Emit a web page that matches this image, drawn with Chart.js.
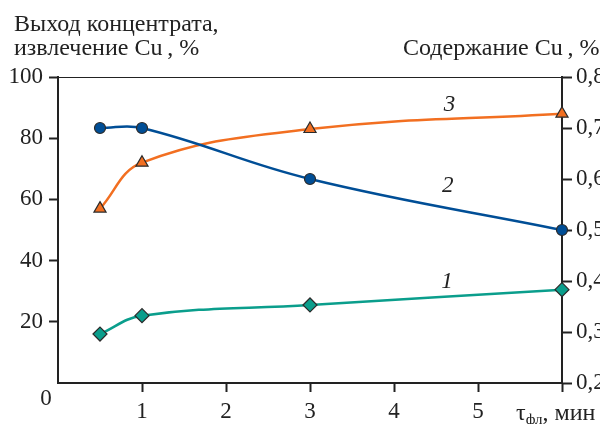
<!DOCTYPE html>
<html>
<head>
<meta charset="utf-8">
<script src="https://cdn.jsdelivr.net/npm/chart.js@4"></script>
<style>
  html, body { margin: 0; padding: 0; background: #fff; overflow: hidden; }
  #wrap { width: 600px; height: 424px; }
</style>
</head>
<body>
<div id="wrap"><canvas id="c" width="600" height="424"></canvas></div>
<script>
// Flotation time, min
const times = [0.5, 1, 3, 6];
// Curve 1: concentrate yield, %
const yieldPct = [16, 22, 25.5, 30.5];
// Curve 3: Cu recovery, %
const recoveryPct = [57, 72, 83, 88];
// Curve 2: Cu content in concentrate, %
const cuContent = [0.70, 0.70, 0.60, 0.50];

const xTicks = [1, 2, 3, 4, 5];
const leftTicks = [20, 40, 60, 80, 100];
const rightTicks = [0.2, 0.3, 0.4, 0.5, 0.6, 0.7, 0.8];

const SERIF = '"Liberation Serif", "DejaVu Serif", serif';
const INK = '#222';

Chart.defaults.font.family = SERIF;
Chart.defaults.color = INK;

const toXY = (xs, ys) => xs.map((x, i) => ({ x, y: ys[i] }));

// Frame top line, origin label, axis titles and curve numbers
const annotations = {
  id: 'annotations',
  afterDraw(chart) {
    const { ctx, chartArea: a, scales } = chart;
    ctx.save();
    ctx.strokeStyle = INK;
    ctx.lineWidth = 1;
    ctx.beginPath();
    ctx.moveTo(a.left, a.top + 0.5);
    ctx.lineTo(a.right, a.top + 0.5);
    ctx.stroke();

    ctx.fillStyle = INK;
    ctx.font = '24px ' + SERIF;
    ctx.textBaseline = 'alphabetic';
    ctx.textAlign = 'left';
    ctx.fillText('Выход концентрата,', 14, 31);
    ctx.fillText('извлечение Cu\u2009, %', 14, 55);
    ctx.fillText('Содержание Cu\u2009, %', 403, 55);

    ctx.font = '23px ' + SERIF;
    ctx.textAlign = 'center';
    ctx.fillText('0', 46, 405);

    // x-axis title with subscript
    ctx.textAlign = 'left';
    let x = 516;
    const base = 420;
    ctx.font = '24px ' + SERIF;
    ctx.fillText('τ', x, base);
    x += ctx.measureText('τ').width;
    ctx.font = '15px ' + SERIF;
    ctx.fillText('фл', x, base + 4);
    x += ctx.measureText('фл').width;
    ctx.font = '24px ' + SERIF;
    ctx.fillText(', мин', x, base);

    // curve numbers
    ctx.font = 'italic 23px ' + SERIF;
    ctx.textAlign = 'center';
    ctx.textBaseline = 'middle';
    const xs = scales.x, yl = scales.y;
    ctx.fillText('3', xs.getPixelForValue(4.66), yl.getPixelForValue(91));
    ctx.fillText('2', xs.getPixelForValue(4.64), yl.getPixelForValue(64.5));
    ctx.fillText('1', xs.getPixelForValue(4.63), yl.getPixelForValue(33));
    ctx.restore();
  }
};

const tickFont = { family: SERIF, size: 23 };

new Chart(document.getElementById('c'), {
  type: 'line',
  data: {
    datasets: [
      {
        label: '1',
        data: toXY(times, yieldPct),
        yAxisID: 'y',
        borderColor: '#0A9E8C',
        backgroundColor: '#0A9E8C',
        pointStyle: 'rectRot',
        pointRadius: 7,
        pointBorderColor: '#2b2b2b',
        pointBorderWidth: 1.2,
        borderWidth: 2.5,
        tension: 0.4
      },
      {
        label: '2',
        data: toXY(times, cuContent),
        yAxisID: 'y1',
        borderColor: '#004E96',
        backgroundColor: '#004E96',
        pointStyle: 'circle',
        pointRadius: 5.5,
        pointBorderColor: '#2b2b2b',
        pointBorderWidth: 1.2,
        borderWidth: 2.5,
        tension: 0.4
      },
      {
        label: '3',
        data: toXY(times, recoveryPct),
        yAxisID: 'y',
        borderColor: '#F26F21',
        backgroundColor: '#F26F21',
        pointStyle: 'triangle',
        pointRadius: 7,
        pointBorderColor: '#2b2b2b',
        pointBorderWidth: 1.2,
        borderWidth: 2.5,
        tension: 0.4
      }
    ]
  },
  options: {
    responsive: false,
    animation: false,
    clip: false,
    layout: { padding: { top: 77, left: 0, right: 0, bottom: 0 } },
    plugins: { legend: { display: false }, tooltip: { enabled: false } },
    scales: {
      x: {
        type: 'linear',
        min: 0,
        max: 6,
        afterBuildTicks: s => { s.ticks = [0, ...xTicks, 6].map(v => ({ value: v })); },
        afterFit: s => { s.height = 41; },
        ticks: {
          font: tickFont,
          color: INK,
          padding: 6,
          maxRotation: 0,
          autoSkip: false,
          callback: v => xTicks.includes(v) ? String(v) : ''
        },
        grid: {
          drawOnChartArea: false,
          drawTicks: true,
          tickLength: 9,
          tickWidth: 2,
          tickColor: c => (c.tick && c.tick.value === 0) ? 'rgba(0,0,0,0)' : INK
        },
        border: { color: INK, width: 2 }
      },
      y: {
        position: 'left',
        min: 0,
        max: 100,
        afterBuildTicks: s => { s.ticks = [0, ...leftTicks].map(v => ({ value: v })); },
        afterFit: s => { s.width = 58; },
        ticks: {
          font: tickFont,
          color: INK,
          padding: 6,
          autoSkip: false,
          callback: v => leftTicks.includes(v) ? String(v) : ''
        },
        grid: {
          drawOnChartArea: false,
          drawTicks: true,
          tickLength: 9,
          tickWidth: 2,
          tickColor: c => (c.tick && c.tick.value === 0) ? 'rgba(0,0,0,0)' : INK
        },
        border: { color: INK, width: 2 }
      },
      y1: {
        position: 'right',
        min: 0.2,
        max: 0.8,
        afterBuildTicks: s => { s.ticks = rightTicks.map(v => ({ value: v })); },
        afterFit: s => { s.width = 38; },
        ticks: {
          font: tickFont,
          color: INK,
          padding: 4,
          autoSkip: false,
          callback: v => v.toFixed(1).replace('.', ',')
        },
        grid: {
          drawOnChartArea: false,
          drawTicks: true,
          tickLength: 10,
          tickWidth: 2,
          tickColor: INK
        },
        border: { color: INK, width: 2 }
      }
    }
  },
  plugins: [annotations]
});
</script>
</body>
</html>
